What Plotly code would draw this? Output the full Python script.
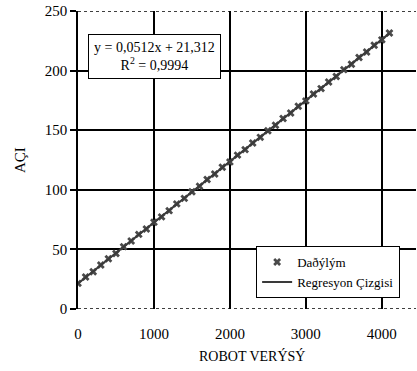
import numpy as np
import plotly.graph_objects as go

robot_x = [0, 100, 200, 300, 400, 500, 600, 700, 800, 900, 1000, 1100, 1200, 1300,
           1400, 1500, 1600, 1700, 1800, 1900, 2000, 2100, 2200, 2300, 2400, 2500,
           2600, 2700, 2800, 2900, 3000, 3100, 3200, 3300, 3400, 3500, 3600, 3700,
           3800, 3900, 4000, 4100]
aci_y = [21.5, 26.8, 31.2, 36.9, 42.1, 46.5, 52.3, 57.0, 62.6, 67.1, 72.8, 77.3,
         82.5, 88.2, 92.8, 98.4, 103.0, 108.6, 113.2, 118.9, 123.4, 129.1, 133.7,
         139.3, 144.0, 149.6, 154.1, 159.8, 164.4, 170.1, 174.6, 180.3, 184.9,
         190.5, 195.1, 200.8, 205.3, 211.0, 215.6, 221.3, 225.8, 231.5]

x_ticks = [0, 1000, 2000, 3000, 4000]
y_ticks = [0, 50, 100, 150, 200, 250]

x_title = "ROBOT VERÝSÝ"
y_title = "AÇI"

slope, intercept = np.polyfit(robot_x, aci_y, 1)
line_x = [min(robot_x), max(robot_x)]
line_y = [slope * v + intercept for v in line_x]

FONT = "Liberation Serif"
W, H = 417, 371
ML, MR, MT, MB = 78, 1, 11, 62

fig = go.Figure()
fig.add_trace(go.Scatter(
    x=robot_x, y=aci_y, mode="markers", name="Daðýlým",
    marker=dict(symbol="x", size=7, color="#4a4a4a",
                line=dict(color="#333333", width=0)),
))
fig.add_trace(go.Scatter(
    x=line_x, y=line_y, mode="lines", name="Regresyon Çizgisi",
    line=dict(color="#3a3a3a", width=2),
))

fig.update_layout(
    width=W, height=H,
    margin=dict(l=ML, r=MR, t=MT, b=MB, autoexpand=False),
    paper_bgcolor="white", plot_bgcolor="white",
    font=dict(family=FONT, size=14, color="black"),
    showlegend=True,
    legend=dict(x=0.527, y=0.211, xanchor="left", yanchor="top",
                bgcolor="white", bordercolor="black", borderwidth=1,
                font=dict(family=FONT, size=13), tracegroupgap=0,
                itemwidth=30),
    xaxis=dict(range=[0, 4450], tickvals=x_ticks, ticks="",
               showgrid=True, gridcolor="black", gridwidth=1.5,
               zeroline=False, showline=False, automargin=False,
               ticklabelstandoff=14, tickfont=dict(size=15)),
    yaxis=dict(range=[0, 250], tickvals=y_ticks, ticks="outside", ticklen=6,
               tickcolor="black", tickwidth=1.5,
               showgrid=True, gridcolor="black", gridwidth=1.5,
               zeroline=False, showline=True, linecolor="black", linewidth=1.5,
               automargin=False, tickfont=dict(size=15)),
)

# dotted top and bottom borders
for yv in [0, 250]:
    fig.add_shape(type="line", xref="paper", yref="y", x0=0, x1=1, y0=yv, y1=yv,
                  line=dict(color="black", width=1.5, dash="dot"))

pw, ph = W - ML - MR, H - MT - MB


def px_x(p):
    return (p - ML) / pw


def px_y(p):
    return 1 - (p - MT) / ph


# axis titles
fig.add_annotation(xref="paper", yref="paper", x=px_x(252), y=px_y(356),
                   xanchor="center", yanchor="middle", text=x_title,
                   showarrow=False, font=dict(family=FONT, size=14))
fig.add_annotation(xref="paper", yref="paper", x=px_x(20), y=px_y(160),
                   xanchor="center", yanchor="middle", text=y_title, textangle=-90,
                   showarrow=False, font=dict(family=FONT, size=15))

fig.add_annotation(
    xref="paper", yref="paper", x=px_x(88), y=px_y(34), xanchor="left", yanchor="top",
    text="y = 0,0512x + 21,312<br>R<sup>2</sup> = 0,9994",
    showarrow=False, align="center", bgcolor="white", bordercolor="black",
    borderwidth=1, borderpad=5, font=dict(family=FONT, size=14),
)

fig.write_html(
    "out.html",
    config={"displayModeBar": False},
    post_script="document.body.style.margin='0';document.body.style.overflow='hidden';",
)
